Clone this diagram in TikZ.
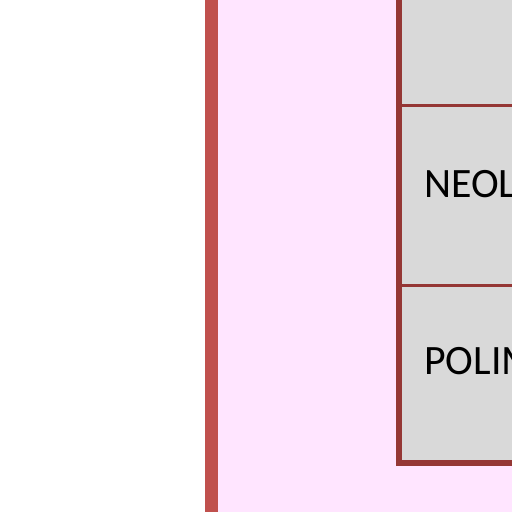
\documentclass[tikz,border=0pt]{standalone}
\usepackage{fontspec}
\setmainfont{Carlito}
\usepackage{xcolor}
\usetikzlibrary{positioning}
\definecolor{barred}{HTML}{C0504D}
\definecolor{pinkbg}{HTML}{FFE5FF}
\definecolor{boxgray}{HTML}{D9D9D9}
\definecolor{boxline}{HTML}{953735}
\def\lbl{\fontsize{23.8}{28}\selectfont}

\begin{document}
\begin{tikzpicture}[x=0.02cm, y=0.02cm,
  cell/.style={draw=boxline, line width=5.5pt*0.567, fill=boxgray},
  cut/.style={draw=boxline, line width=3.5pt*0.567},
  word/.style={anchor=base west, inner sep=0pt, black}]
\clip (0,0) rectangle (512,512);
\fill[white] (0,0) rectangle (512,512);
\fill[barred] (205,-10) rectangle (218,530);
\fill[pinkbg] (218,-10) rectangle (530,530);

\draw[cell] (399,49) rectangle (580,540);
\coordinate (c1l) at (399,406.5);
\coordinate (c1r) at (580,406.5);
\coordinate (c2l) at (399,226.5);
\coordinate (c2r) at (580,226.5);
\draw[cut] (c1l) -- (c1r);
\draw[cut] (c2l) -- (c2r);

\node[word] (neol) at (424,315) {\lbl NEOL};
\node[word] (polim) at (424,137) {\lbl POLIM};
\end{tikzpicture}
\end{document}
